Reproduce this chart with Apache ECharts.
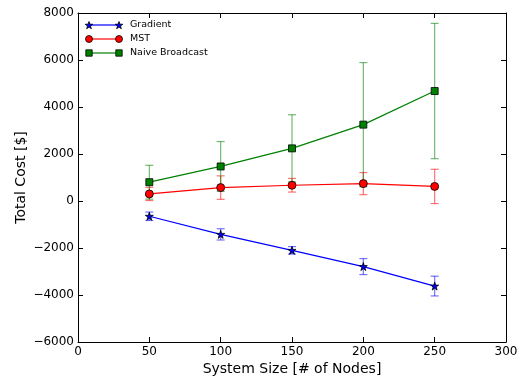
<!DOCTYPE html>
<html>
<head>
<meta charset="utf-8">
<script src="https://cdn.jsdelivr.net/npm/echarts@6/dist/echarts.min.js"></script>
<style>html,body{margin:0;padding:0;background:#fff}#c{width:521px;height:381px}</style>
</head>
<body>
<div id="c"></div>
<script>
const sizes = [50, 100, 150, 200, 250];
const gradient = [-650, -1420, -2100, -2790, -3620];
const gradientErr = [180, 240, 160, 340, 420];
const mst = [300, 570, 670, 740, 620];
const mstErr = [280, 500, 290, 470, 730];
const naive = [800, 1470, 2240, 3250, 4680];
const naiveErr = [720, 1060, 1430, 2640, 2880];
const seriesNames = ['Gradient', 'MST', 'Naive Broadcast'];
const xTicks = [0, 50, 100, 150, 200, 250, 300];
const yTicks = [-6000, -4000, -2000, 0, 2000, 4000, 6000, 8000];

const STAR = 'path://M50,0 L61.8,36.2 L100,36.2 L69.1,58.6 L80.9,95 L50,72.6 L19.1,95 L30.9,58.6 L0,36.2 L38.2,36.2 Z';
const FONT = 'DejaVu Sans';
const colors = ['#0000ff', '#ff0000', '#008000'];
const symbols = [STAR, 'circle', 'rect'];
const symSizes = [8, 8, 7];
const values = [gradient, mst, naive];
const errs = [gradientErr, mstErr, naiveErr];

const chart = echarts.init(document.getElementById('c'), null, {renderer: 'canvas'});
const fmt = v => String(v).replace('-', '\u2212');

function axisCommon() {
  return {
    axisLine: {show: true, onZero: false, lineStyle: {color: '#000', width: 1}},
    axisTick: {show: true, inside: true, length: 5, lineStyle: {color: '#000', width: 1}},
    splitLine: {show: false},
  };
}

function starPoints(cx, cy, R) {
  const pts = [];
  const r = R * 0.4;
  for (let k = 0; k < 10; k++) {
    const a = -Math.PI / 2 + k * Math.PI / 5;
    const rr = k % 2 === 0 ? R : r;
    pts.push([cx + rr * Math.cos(a), cy + rr * Math.sin(a)]);
  }
  return pts;
}

const series = [];
values.forEach((vals, i) => {
  series.push({
    type: 'custom',
    name: seriesNames[i] + ' err',
    z: 1,
    silent: true,
    data: sizes.map((s, k) => [s, vals[k], errs[i][k]]),
    renderItem: (params, api) => {
      const x = api.value(0), y = api.value(1), e = api.value(2);
      const top = api.coord([x, y + e]);
      const bot = api.coord([x, y - e]);
      const cw = 4;
      const st = {stroke: colors[i], lineWidth: 1.2, opacity: 0.55};
      return {
        type: 'group',
        children: [
          {type: 'line', shape: {x1: top[0], y1: top[1], x2: bot[0], y2: bot[1]}, style: st},
          {type: 'line', shape: {x1: top[0] - cw, y1: top[1], x2: top[0] + cw, y2: top[1]}, style: st},
          {type: 'line', shape: {x1: bot[0] - cw, y1: bot[1], x2: bot[0] + cw, y2: bot[1]}, style: st},
        ]
      };
    }
  });
});
values.forEach((vals, i) => {
  series.push({
    type: 'line',
    name: seriesNames[i],
    z: 3,
    data: sizes.map((s, k) => [s, vals[k]]),
    symbol: symbols[i],
    symbolSize: symSizes[i],
    showAllSymbol: true,
    lineStyle: {color: colors[i], width: 1.2},
    itemStyle: {color: colors[i], borderColor: '#000', borderWidth: 0.8},
    emphasis: {disabled: true},
    animation: false,
  });
});

// legend built as graphics (line with a marker at both ends, matplotlib style)
const legendGraphics = [];
seriesNames.forEach((n, i) => {
  const y = 25 + i * 14;
  legendGraphics.push({type: 'line', shape: {x1: 89, y1: y, x2: 119, y2: y}, style: {stroke: colors[i], lineWidth: 1.2}});
  [89, 119].forEach(x => {
    if (i === 0) {
      legendGraphics.push({type: 'polygon', shape: {points: starPoints(x, y + 0.5, 4)}, style: {fill: colors[i], stroke: '#000', lineWidth: 0.8}});
    } else if (i === 1) {
      legendGraphics.push({type: 'circle', shape: {cx: x, cy: y, r: 3.5}, style: {fill: colors[i], stroke: '#000', lineWidth: 0.8}});
    } else {
      legendGraphics.push({type: 'rect', shape: {x: x - 3.2, y: y - 3.2, width: 6.4, height: 6.4}, style: {fill: colors[i], stroke: '#000', lineWidth: 0.8}});
    }
  });
  legendGraphics.push({type: 'text', x: 130, y: y, style: {text: n, font: '9.5px "DejaVu Sans"', fill: '#000', verticalAlign: 'middle', align: 'left'}});
});

chart.setOption({
  animation: false,
  backgroundColor: '#fff',
  grid: {left: 78, right: 15, top: 13, bottom: 38, containLabel: false},
  xAxis: [
    Object.assign(axisCommon(), {
      type: 'value', min: xTicks[0], max: xTicks[xTicks.length - 1], interval: 50, position: 'bottom',
      name: 'System Size [# of Nodes]', nameLocation: 'middle', nameGap: 20, nameMoveOverlap: false,
      nameTextStyle: {fontFamily: FONT, fontSize: 14, color: '#000'},
      axisLabel: {fontFamily: FONT, fontSize: 12, color: '#000', margin: 4}
    }),
    Object.assign(axisCommon(), {
      type: 'value', min: xTicks[0], max: xTicks[xTicks.length - 1], interval: 50, position: 'top',
      axisLabel: {show: false}
    })
  ],
  yAxis: [
    Object.assign(axisCommon(), {
      type: 'value', min: yTicks[0], max: yTicks[yTicks.length - 1], interval: 2000, position: 'left',
      name: 'Total Cost [$]', nameLocation: 'middle', nameGap: 50, nameMoveOverlap: false,
      nameTextStyle: {fontFamily: FONT, fontSize: 14, color: '#000'},
      axisLabel: {fontFamily: FONT, fontSize: 12, color: '#000', margin: 4, formatter: fmt}
    }),
    Object.assign(axisCommon(), {
      type: 'value', min: yTicks[0], max: yTicks[yTicks.length - 1], interval: 2000, position: 'right',
      axisLabel: {show: false}
    })
  ],
  series: series,
  graphic: legendGraphics
});
</script>
</body>
</html>
